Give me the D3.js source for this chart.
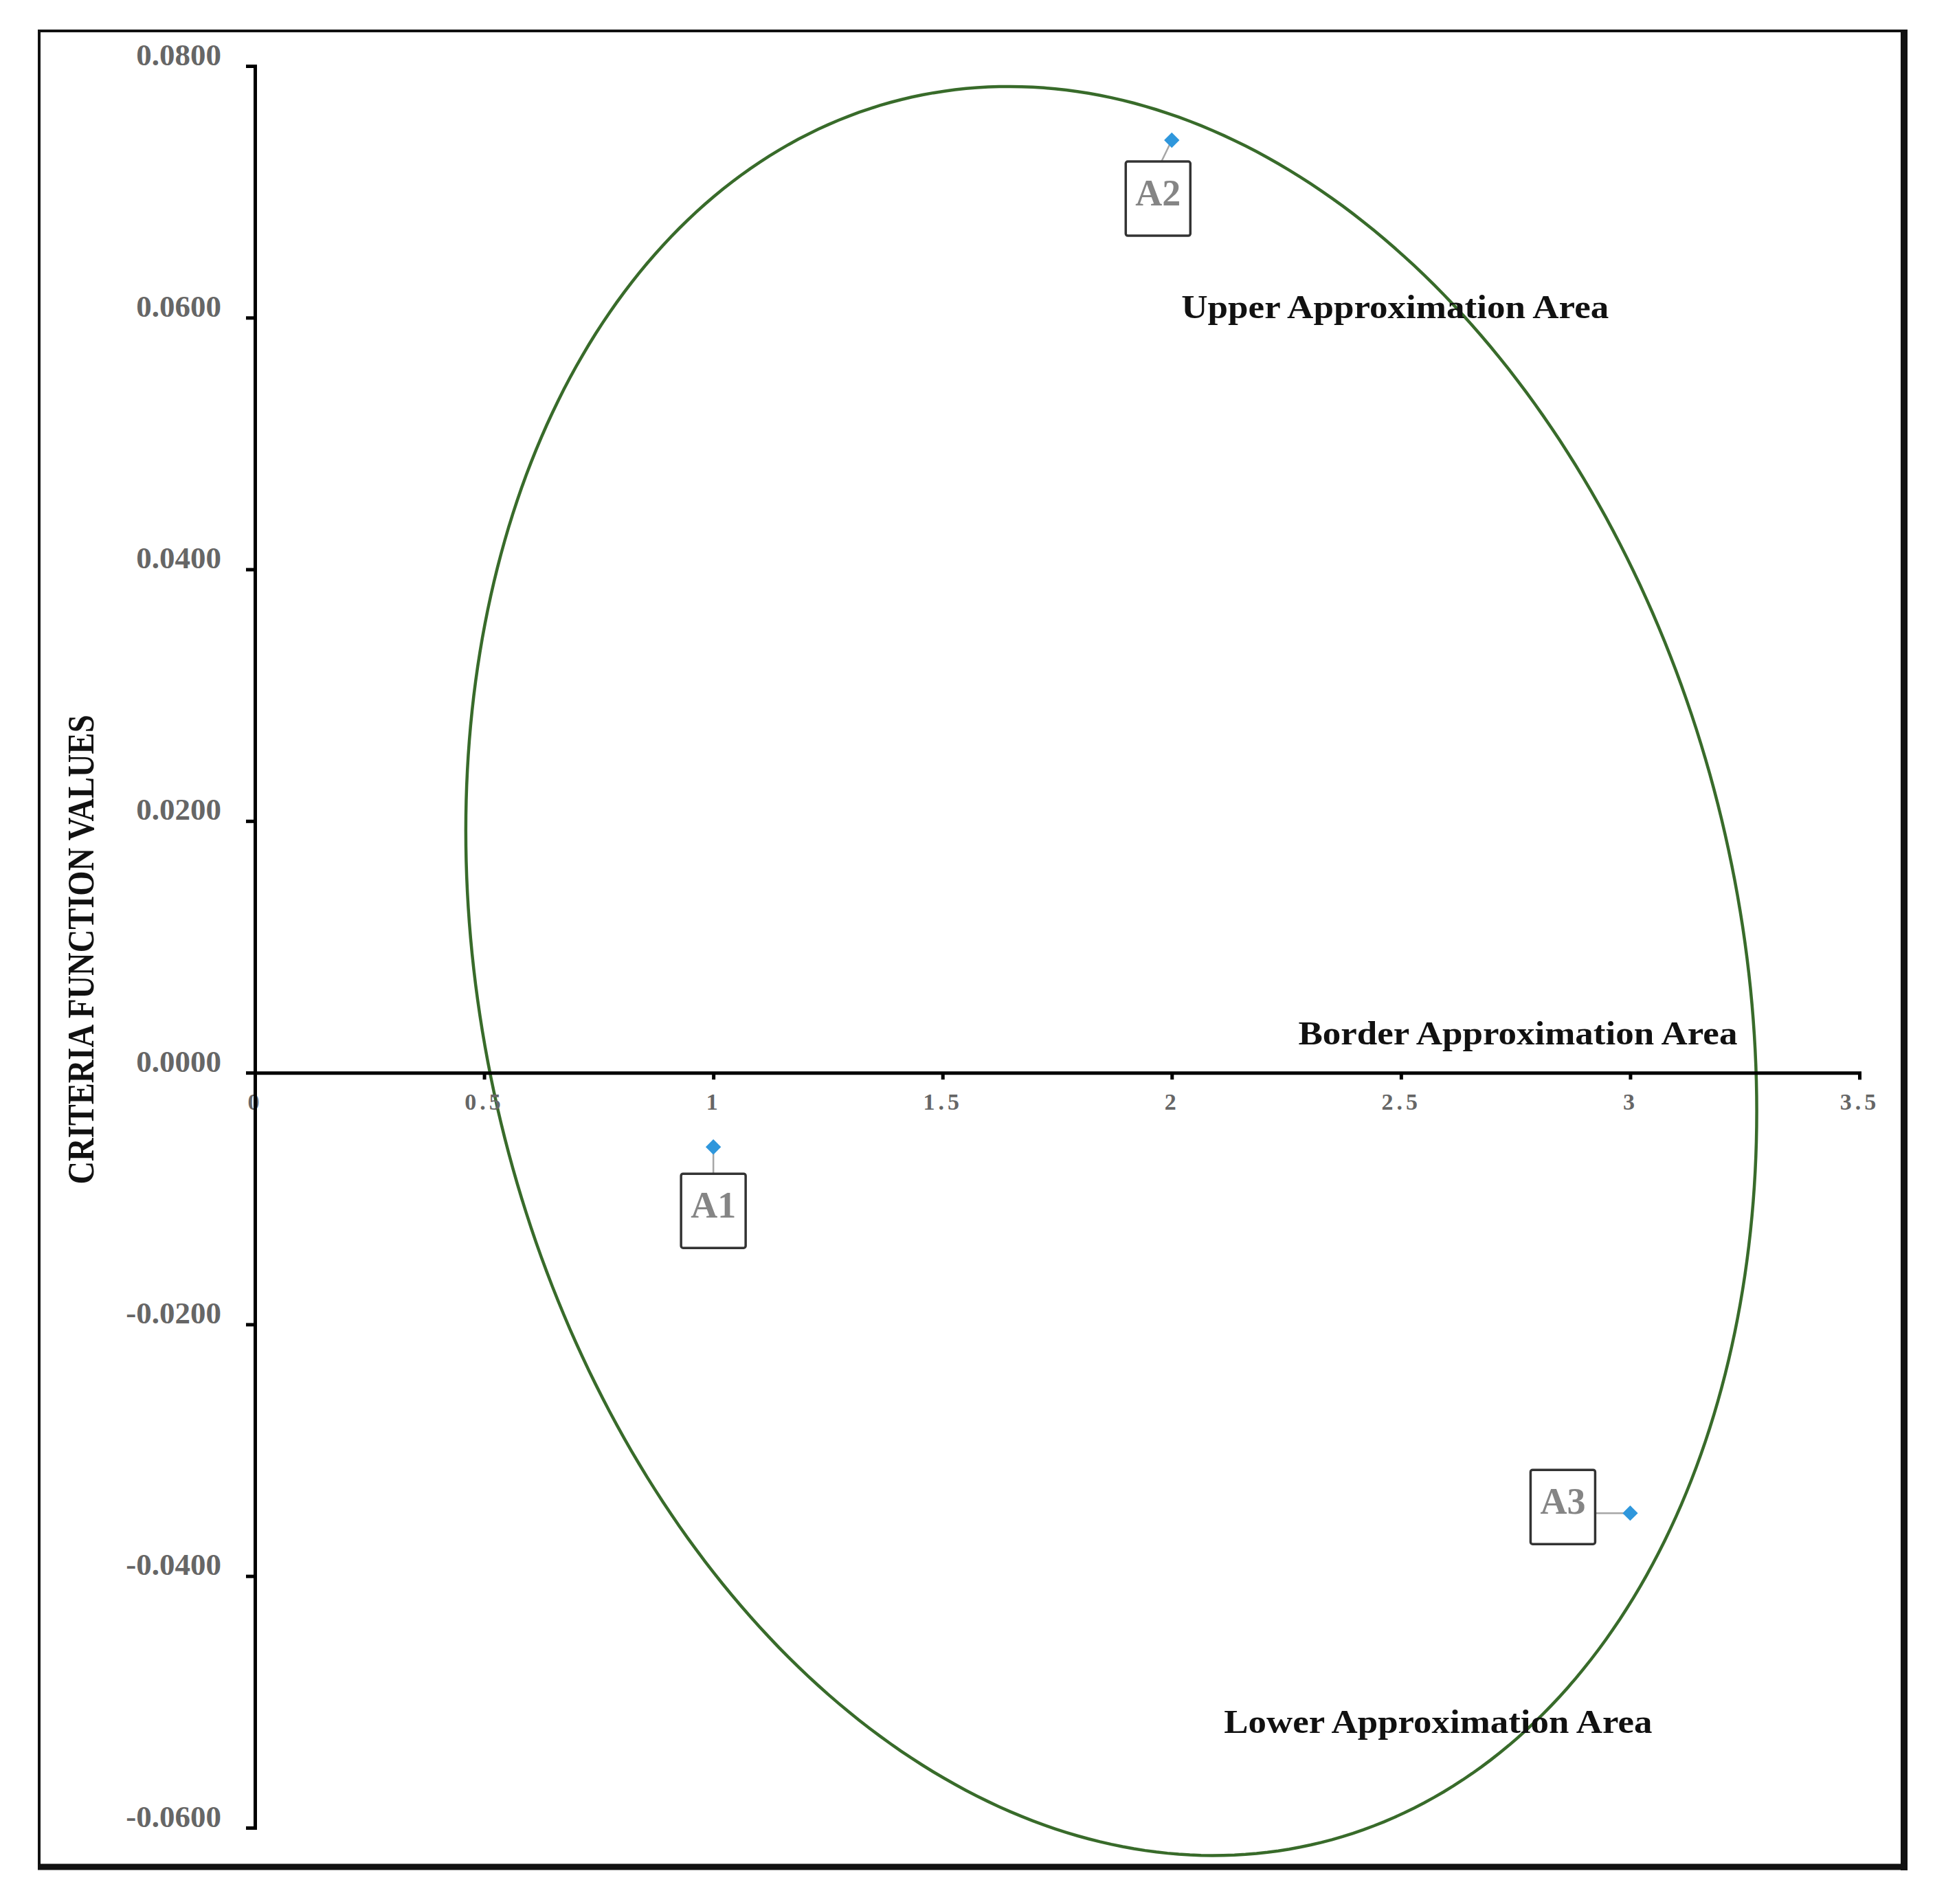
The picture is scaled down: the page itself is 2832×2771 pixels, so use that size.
<!DOCTYPE html>
<html>
<head>
<meta charset="utf-8">
<script src="https://cdnjs.cloudflare.com/ajax/libs/d3/7.8.5/d3.min.js"></script>
<style>
  body { margin: 0; background: #fff; }
  svg { display: block; }
</style>
</head>
<body>
<div id="chart"></div>
<script>
// data
var altNames = ['A1', 'A2', 'A3'];
var altX = [1, 2, 3];
var altY = [-0.0059, 0.0741, -0.0350];

var xTicks = [0, 0.5, 1, 1.5, 2, 2.5, 3, 3.5];
var xTickLabels = ['0', '0.5', '1', '1.5', '2', '2.5', '3', '3.5'];
var yTicks = [-0.06, -0.04, -0.02, 0, 0.02, 0.04, 0.06, 0.08];
var yTickLabels = ['-0.0600', '-0.0400', '-0.0200', '0.0000', '0.0200', '0.0400', '0.0600', '0.0800'];

var areaNames = ['Upper Approximation Area', 'Border Approximation Area', 'Lower Approximation Area'];
var areaX = [2.021, 2.276, 2.114];
var areaY = [0.0608, 0.0031, -0.0516];

// ellipse: centre and two conjugate half-axes, in data units
var ellipseCenter = [1.868, 0.00808];
var ellipseU = [1.408, -0.01114];
var ellipseV = [0, -0.0694];

var width = 2832;
var height = 2771;
var serif = '"Liberation Serif", "Times New Roman", serif';

var svg = d3.select('#chart').append('svg')
  .attr('width', width)
  .attr('height', height);

svg.append('rect')
  .attr('width', width)
  .attr('height', height)
  .attr('fill', '#fff');

// frame, heavier on right and bottom
svg.append('rect')
  .attr('x', 57)
  .attr('y', 45)
  .attr('width', 2713)
  .attr('height', 2672)
  .attr('fill', 'none')
  .attr('stroke', '#111')
  .attr('stroke-width', 4);
svg.append('line')
  .attr('x1', 2771).attr('x2', 2771)
  .attr('y1', 43).attr('y2', 2722)
  .attr('stroke', '#111')
  .attr('stroke-width', 10);
svg.append('line')
  .attr('x1', 55).attr('x2', 2776)
  .attr('y1', 2717).attr('y2', 2717)
  .attr('stroke', '#111')
  .attr('stroke-width', 9);

var xScale = d3.scaleLinear()
  .domain([0, 3.5])
  .range([371, 2706]);

var yScale = d3.scaleLinear()
  .domain([-0.06, 0.08])
  .range([2660, 96]);

// ellipse outline
var ts = d3.range(0, 361).map(function(d) { return d * Math.PI / 180; });
var ellipsePts = ts.map(function(t) {
  return [
    ellipseCenter[0] + ellipseU[0] * Math.cos(t) + ellipseV[0] * Math.sin(t),
    ellipseCenter[1] + ellipseU[1] * Math.cos(t) + ellipseV[1] * Math.sin(t)
  ];
});

svg.append('path')
  .attr('d', d3.line()
    .x(function(d) { return xScale(d[0]); })
    .y(function(d) { return yScale(d[1]); })
    .curve(d3.curveLinearClosed)(ellipsePts))
  .attr('fill', 'none')
  .attr('stroke', '#386b2a')
  .attr('stroke-width', 4.5);

// axes
var yAxis = d3.axisLeft(yScale)
  .tickValues(yTicks)
  .tickFormat(function(d, i) { return yTickLabels[i]; })
  .tickSize(13)
  .tickPadding(36);

var gy = svg.append('g')
  .attr('transform', 'translate(' + xScale(0) + ',0)')
  .call(yAxis);

var xAxis = d3.axisBottom(xScale)
  .tickValues(xTicks)
  .tickFormat(function(d, i) { return xTickLabels[i]; })
  .tickSize(10)
  .tickPadding(20);

var gx = svg.append('g')
  .attr('transform', 'translate(0,' + yScale(0) + ')')
  .call(xAxis);

gy.selectAll('path, line').attr('stroke', '#000').attr('stroke-width', 5);
gx.selectAll('path, line').attr('stroke', '#000').attr('stroke-width', 5);

gy.selectAll('text')
  .attr('dy', -2)
  .attr('fill', '#666')
  .style('font-family', serif)
  .style('font-weight', 'bold')
  .style('font-size', '45px');

gx.selectAll('text')
  .attr('fill', '#666')
  .style('font-family', serif)
  .style('font-weight', 'bold')
  .style('font-size', '34px')
  .style('letter-spacing', '5px');

// y axis goes over the "0" label
gy.raise();

// axis title
svg.append('text')
  .attr('transform', 'translate(136,1382) rotate(-90)')
  .attr('text-anchor', 'middle')
  .attr('textLength', 683)
  .attr('lengthAdjust', 'spacingAndGlyphs')
  .style('font-family', serif)
  .style('font-weight', 'bold')
  .style('font-size', '54px')
  .attr('fill', '#111')
  .text('CRITERIA FUNCTION VALUES');

// area captions
var areaWidths = [622, 639, 623];
svg.selectAll('.area')
  .data(areaNames)
  .enter()
  .append('text')
  .attr('class', 'area')
  .attr('x', function(d, i) { return xScale(areaX[i]); })
  .attr('y', function(d, i) { return yScale(areaY[i]); })
  .attr('dy', '0.33em')
  .attr('textLength', function(d, i) { return areaWidths[i]; })
  .attr('lengthAdjust', 'spacingAndGlyphs')
  .style('font-family', serif)
  .style('font-weight', 'bold')
  .style('font-size', '48px')
  .attr('fill', '#111')
  .text(function(d) { return d; });

// point labels: box offset from the point (pixels), leader end on the box
var boxW = 94, boxH = 108;
var boxDx = [-47, -67, -145];
var boxDy = [39, 31, -63];
var leadDx = [0, -15, -51];
var leadDy = [39, 31, 0];

var pts = altNames.map(function(n, i) {
  return { name: n, x: altX[i], y: altY[i], i: i };
});

var lab = svg.selectAll('.lab')
  .data(pts)
  .enter()
  .append('g')
  .attr('class', 'lab');

lab.append('line')
  .attr('x1', function(d) { return xScale(d.x); })
  .attr('y1', function(d) { return yScale(d.y); })
  .attr('x2', function(d) { return xScale(d.x) + leadDx[d.i]; })
  .attr('y2', function(d) { return yScale(d.y) + leadDy[d.i]; })
  .attr('stroke', '#a6a6a6')
  .attr('stroke-width', 2.5);

lab.append('rect')
  .attr('x', function(d) { return xScale(d.x) + boxDx[d.i]; })
  .attr('y', function(d) { return yScale(d.y) + boxDy[d.i]; })
  .attr('width', boxW)
  .attr('height', boxH)
  .attr('rx', 3)
  .attr('fill', '#fff')
  .attr('stroke', '#333')
  .attr('stroke-width', 3.5);

lab.append('text')
  .attr('x', function(d) { return xScale(d.x) + boxDx[d.i] + boxW / 2; })
  .attr('y', function(d) { return yScale(d.y) + boxDy[d.i] + 64; })
  .attr('text-anchor', 'middle')
  .style('font-family', serif)
  .style('font-weight', 'bold')
  .style('font-size', '54px')
  .attr('fill', '#858585')
  .text(function(d) { return d.name; });

// markers
svg.selectAll('.pt')
  .data(pts)
  .enter()
  .append('path')
  .attr('class', 'pt')
  .attr('d', d3.symbol().type(d3.symbolSquare).size(250))
  .attr('transform', function(d) {
    return 'translate(' + xScale(d.x) + ',' + yScale(d.y) + ') rotate(45)';
  })
  .attr('fill', '#2f97dc');
</script>
</body>
</html>
